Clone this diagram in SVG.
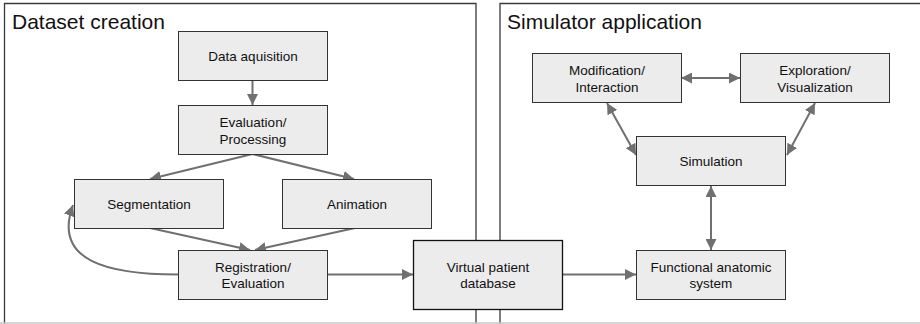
<svg xmlns="http://www.w3.org/2000/svg" width="920" height="324" viewBox="0 0 920 324">
<defs>
<style>
.frame{fill:none;stroke:#3a3a3a;stroke-width:1.3}
.box{fill:#ececec;stroke:#333;stroke-width:1}
.box2{fill:#ececec;stroke:#111;stroke-width:1.3}
.t{font-family:"Liberation Sans",Arial,sans-serif;font-size:13.5px;fill:#111;text-anchor:middle}
.title{font-family:"Liberation Sans",Arial,sans-serif;font-size:21px;fill:#111}
.c{fill:none;stroke:#707070;stroke-width:2}
</style>
<marker id="ah" viewBox="0 0 10 10" refX="10" refY="5" markerWidth="5.5" markerHeight="5.5" orient="auto-start-reverse" markerUnits="strokeWidth">
<path d="M0,0 L10,5 L0,10 z" fill="#707070"/>
</marker>
</defs>
<rect width="920" height="324" fill="#fff"/>
<g id="frames">
<path class="frame" d="M4.5,330 V3.5 H476 V330"/>
<path class="frame" d="M500,330 V3.5 H930"/>
<line x1="0" y1="323" x2="920" y2="323" stroke="#c8c8c8" stroke-width="1.5"/>
<text class="title" x="12" y="29">Dataset creation</text>
<text class="title" x="507" y="29">Simulator application</text>
</g>
<g id="connectors">
<line class="c" x1="252.5" y1="80" x2="252.5" y2="105" marker-end="url(#ah)"/>
<line class="c" x1="252.5" y1="154" x2="150" y2="179" marker-end="url(#ah)"/>
<line class="c" x1="252.5" y1="154" x2="354" y2="179" marker-end="url(#ah)"/>
<line class="c" x1="150" y1="228" x2="250" y2="250" marker-end="url(#ah)"/>
<line class="c" x1="355" y1="228" x2="255" y2="250" marker-end="url(#ah)"/>
<path class="c" d="M178,274.5 C110,274.5 52,262 73,205" marker-end="url(#ah)"/>
<line class="c" x1="327" y1="274.5" x2="413" y2="274.5" marker-end="url(#ah)"/>
<line class="c" x1="563" y1="274.5" x2="636" y2="274.5" marker-end="url(#ah)"/>
<line class="c" x1="711" y1="186" x2="711" y2="250" marker-start="url(#ah)" marker-end="url(#ah)"/>
<line class="c" x1="607" y1="103" x2="636" y2="155" marker-start="url(#ah)" marker-end="url(#ah)"/>
<line class="c" x1="815" y1="103" x2="787" y2="155" marker-start="url(#ah)" marker-end="url(#ah)"/>
<line class="c" x1="681" y1="78" x2="740" y2="78" marker-start="url(#ah)" marker-end="url(#ah)"/>
</g>
<g id="data-aquisition"><rect class="box" x="178.5" y="31.5" width="149" height="49"/><text class="t" x="253" y="61">Data aquisition</text></g>
<g id="evaluation-processing"><rect class="box" x="178.5" y="105.5" width="149" height="49"/><text class="t" x="253" y="127">Evaluation/</text><text class="t" x="253" y="143.5">Processing</text></g>
<g id="segmentation"><rect class="box" x="74.5" y="179.5" width="149" height="49"/><text class="t" x="149" y="209">Segmentation</text></g>
<g id="animation"><rect class="box" x="282.5" y="179.5" width="149" height="49"/><text class="t" x="357" y="209">Animation</text></g>
<g id="registration-evaluation"><rect class="box" x="178.5" y="250.5" width="149" height="49"/><text class="t" x="253" y="271.5">Registration/</text><text class="t" x="253" y="288">Evaluation</text></g>
<g id="virtual-patient-database"><rect class="box2" x="413.5" y="240.5" width="149" height="69"/><text class="t" x="488" y="271.5">Virtual patient</text><text class="t" x="488" y="288">database</text></g>
<g id="functional-anatomic-system"><rect class="box" x="636.5" y="250.5" width="149" height="49"/><text class="t" x="711" y="271.5">Functional anatomic</text><text class="t" x="711" y="288">system</text></g>
<g id="simulation"><rect class="box" x="636.5" y="136.5" width="149" height="49"/><text class="t" x="711" y="166">Simulation</text></g>
<g id="modification-interaction"><rect class="box" x="532.5" y="53.5" width="149" height="49"/><text class="t" x="607" y="75">Modification/</text><text class="t" x="607" y="91.5">Interaction</text></g>
<g id="exploration-visualization"><rect class="box" x="740.5" y="53.5" width="149" height="49"/><text class="t" x="815" y="75">Exploration/</text><text class="t" x="815" y="91.5">Visualization</text></g>
</svg>
